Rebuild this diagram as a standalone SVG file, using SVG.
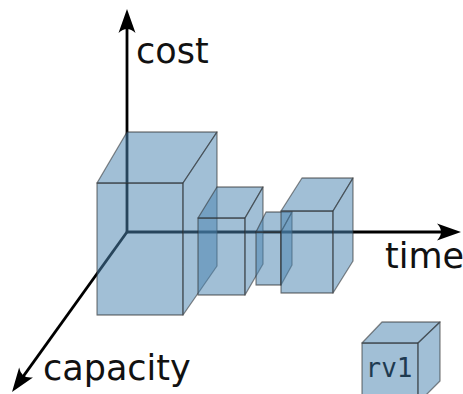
<svg xmlns="http://www.w3.org/2000/svg" width="463" height="394" viewBox="0 0 463 394">
  <style>
    .axis { stroke: #000; stroke-width: 2.8; fill: none; marker-end: url(#arrow); }
    .face { fill: #4a84b0; fill-opacity: 0.52; stroke: #2b2b2b; stroke-opacity: 0.55; stroke-width: 1.3; stroke-linejoin: round; }
    .label { font-family: "DejaVu Sans", sans-serif; font-size: 35px; fill: #111; }
    .tag { font-family: "DejaVu Sans Mono", monospace; font-size: 26px; fill: #1e3a50; }
  </style>
  <defs>
    <marker id="arrow" markerUnits="userSpaceOnUse" viewBox="-30 -12 34 24" refX="-14" refY="0" markerWidth="34" markerHeight="24" orient="auto">
      <path d="M 0 0 L -24 -8.5 Q -16 0 -24 8.5 Z" fill="#000"/>
    </marker>
  </defs>
  <rect width="463" height="394" fill="#fff"/>
  <g id="connectors">
    <line class="axis" x1="127" y1="232" x2="127" y2="23"/>
    <line class="axis" x1="127" y1="232" x2="447" y2="232"/>
    <line class="axis" x1="127" y1="232" x2="20.2" y2="380.6"/>
  </g>
  <g id="axis-labels">
    <text class="label" x="136" y="63">cost</text>
    <text class="label" x="385" y="268">time</text>
    <text class="label" x="43" y="380">capacity</text>
  </g>
  <g id="cube1">
    <rect class="face" x="97" y="183" width="86" height="132"/>
    <polygon class="face" points="97,183 127,132 217,132 183,183"/>
    <polygon class="face" points="183,183 217,132 217,266 183,315"/>
  </g>
  <g id="cube2">
    <rect class="face" x="198" y="218" width="47" height="77"/>
    <polygon class="face" points="198,218 217,187 263,187 245,218"/>
    <polygon class="face" points="245,218 263,187 263,264 245,295"/>
  </g>
  <g id="cube3">
    <rect class="face" x="256" y="232" width="25" height="53"/>
    <polygon class="face" points="256,232 266,212 292,212 281,232"/>
    <polygon class="face" points="281,232 292,212 292,265 281,285"/>
  </g>
  <g id="cube4">
    <rect class="face" x="281" y="211" width="52" height="82"/>
    <polygon class="face" points="281,211 302,178 353,178 333,211"/>
    <polygon class="face" points="333,211 353,178 353,261 333,293"/>
  </g>
  <g id="rv1">
    <rect class="face" x="362" y="343" width="56" height="60"/>
    <polygon class="face" points="362,343 382,322 440,322 418,343"/>
    <polygon class="face" points="418,343 440,322 440,381 418,403"/>
    <text class="tag" x="389" y="377" text-anchor="middle">rv1</text>
  </g>
</svg>
